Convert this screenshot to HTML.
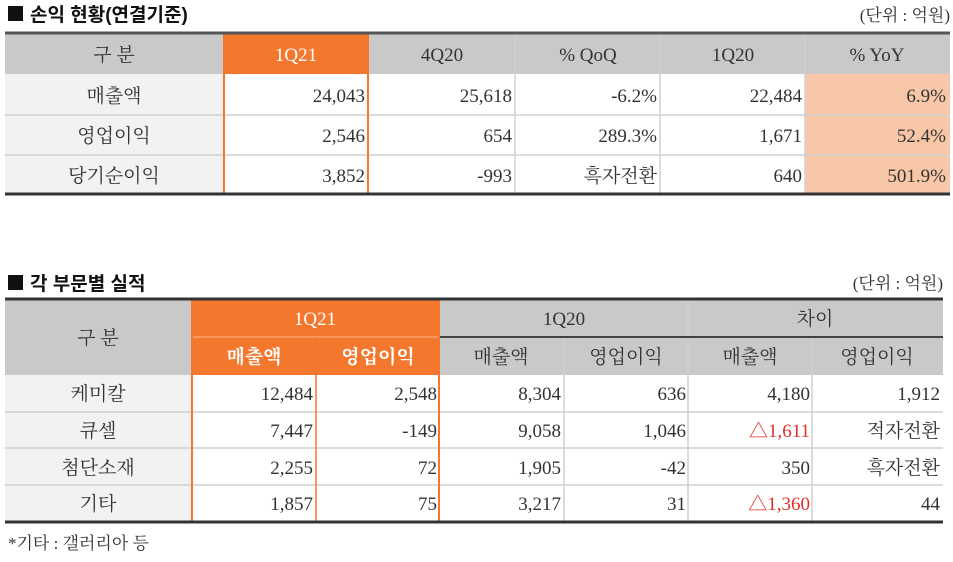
<!DOCTYPE html>
<html><head><meta charset="utf-8"><style>
body{margin:0;width:953px;height:557px;background:#fff;overflow:hidden}
svg text{font-family:"Liberation Serif","Noto Serif CJK SC",serif;font-size:19px;fill:#333}
.t{font-family:"Liberation Sans","Noto Sans CJK KR",sans-serif;font-weight:bold;font-size:19px;fill:#111}
.w{fill:#fff}
.r{fill:#e0302a}
</style></head><body>
<svg width="953" height="557">
<!-- Table 1 -->
<g>
<rect x="8" y="6" width="15" height="15" fill="#111"/>
<text class="t" x="30" y="21">손익 현황(연결기준)</text>
</g>
<text x="950" y="21" text-anchor="end" style="font-size:17px">(단위 : 억원)</text>
<g>
<rect x="5" y="33" width="945" height="41" fill="#c9c9c9"/>
<rect x="5" y="74" width="219" height="120" fill="#f2f2f2"/>
<rect x="805" y="74" width="145" height="120" fill="#f8c7a7"/>
<rect x="224" y="33" width="144" height="41" fill="#f4772e"/>
<g stroke="#d0d0d0" stroke-width="1.5">
<line x1="5" y1="115" x2="950" y2="115"/><line x1="5" y1="155" x2="950" y2="155"/>
<line x1="515" y1="33" x2="515" y2="194"/><line x1="660" y1="33" x2="660" y2="194"/><line x1="805" y1="33" x2="805" y2="194"/>
</g>
<rect x="224" y="33" width="144" height="161" fill="none" stroke="#f4772e" stroke-width="2"/>
<line x1="5" y1="33" x2="950" y2="33" stroke="#555" stroke-width="3"/>
<line x1="5" y1="194" x2="950" y2="194" stroke="#333" stroke-width="3"/>
<text x="114" y="61" text-anchor="middle">구 분</text>
<text x="296" y="61" text-anchor="middle" class="w">1Q21</text>
<text x="442" y="61" text-anchor="middle">4Q20</text>
<text x="588" y="61" text-anchor="middle">% QoQ</text>
<text x="733" y="61" text-anchor="middle">1Q20</text>
<text x="877" y="61" text-anchor="middle">% YoY</text>
<text x="114" y="102" text-anchor="middle">매출액</text>
<text x="114" y="142" text-anchor="middle">영업이익</text>
<text x="114" y="182" text-anchor="middle">당기순이익</text>
<g text-anchor="end">
<text x="365" y="102">24,043</text><text x="512" y="102">25,618</text><text x="657" y="102">-6.2%</text><text x="802" y="102">22,484</text><text x="946" y="102">6.9%</text>
<text x="365" y="142">2,546</text><text x="512" y="142">654</text><text x="657" y="142">289.3%</text><text x="802" y="142">1,671</text><text x="946" y="142">52.4%</text>
<text x="365" y="182">3,852</text><text x="512" y="182">-993</text><text x="657" y="182">흑자전환</text><text x="802" y="182">640</text><text x="946" y="182">501.9%</text>
</g>
</g>
<!-- Table 2 -->
<g>
<rect x="8" y="275" width="15" height="15" fill="#111"/>
<text class="t" x="30" y="290">각 부문별 실적</text>
</g>
<text x="943" y="289" text-anchor="end" style="font-size:17px">(단위 : 억원)</text>
<g>
<rect x="5" y="299" width="938" height="76" fill="#c9c9c9"/>
<rect x="5" y="375" width="187" height="147" fill="#f2f2f2"/>
<rect x="192" y="299" width="247" height="76" fill="#f4772e"/>
<g stroke="#d0d0d0" stroke-width="1.5">
<line x1="5" y1="412" x2="943" y2="412"/><line x1="5" y1="448" x2="943" y2="448"/><line x1="5" y1="485" x2="943" y2="485"/>
<line x1="564" y1="337" x2="564" y2="522"/><line x1="688" y1="299" x2="688" y2="522"/><line x1="812" y1="337" x2="812" y2="522"/>
</g>
<line x1="439" y1="337" x2="943" y2="337" stroke="#444" stroke-width="2"/>
<line x1="192" y1="337" x2="439" y2="337" stroke="#f7a070" stroke-width="1.5"/>
<line x1="316" y1="337" x2="316" y2="522" stroke="#f4772e" stroke-width="1.5"/>
<rect x="192" y="299" width="247" height="223" fill="none" stroke="#f4772e" stroke-width="2"/>
<line x1="5" y1="299" x2="943" y2="299" stroke="#333" stroke-width="3"/>
<line x1="5" y1="522" x2="943" y2="522" stroke="#333" stroke-width="3"/>
<text x="98" y="344" text-anchor="middle">구 분</text>
<text x="315" y="325" text-anchor="middle" class="w">1Q21</text>
<text x="564" y="325" text-anchor="middle">1Q20</text>
<text x="815" y="325" text-anchor="middle">차이</text>
<text x="254" y="363" text-anchor="middle" class="w" style="font-weight:bold">매출액</text>
<text x="378" y="363" text-anchor="middle" class="w" style="font-weight:bold">영업이익</text>
<text x="501" y="363" text-anchor="middle">매출액</text>
<text x="626" y="363" text-anchor="middle">영업이익</text>
<text x="750" y="363" text-anchor="middle">매출액</text>
<text x="877" y="363" text-anchor="middle">영업이익</text>
<text x="98" y="400" text-anchor="middle">케미칼</text>
<text x="98" y="437" text-anchor="middle">큐셀</text>
<text x="98" y="474" text-anchor="middle">첨단소재</text>
<text x="98" y="510" text-anchor="middle">기타</text>
<g text-anchor="end">
<text x="313" y="400">12,484</text><text x="437" y="400">2,548</text><text x="561" y="400">8,304</text><text x="686" y="400">636</text><text x="810" y="400">4,180</text><text x="940" y="400">1,912</text>
<text x="313" y="437">7,447</text><text x="437" y="437">-149</text><text x="561" y="437">9,058</text><text x="686" y="437">1,046</text><text x="810" y="437" class="r">△1,611</text><text x="940" y="437">적자전환</text>
<text x="313" y="474">2,255</text><text x="437" y="474">72</text><text x="561" y="474">1,905</text><text x="686" y="474">-42</text><text x="810" y="474">350</text><text x="940" y="474">흑자전환</text>
<text x="313" y="510">1,857</text><text x="437" y="510">75</text><text x="561" y="510">3,217</text><text x="686" y="510">31</text><text x="810" y="510" class="r">△1,360</text><text x="940" y="510">44</text>
</g>
</g>
<text x="8" y="549" style="font-size:17px">*기타 : 갤러리아 등</text>
</svg>
</body></html>
